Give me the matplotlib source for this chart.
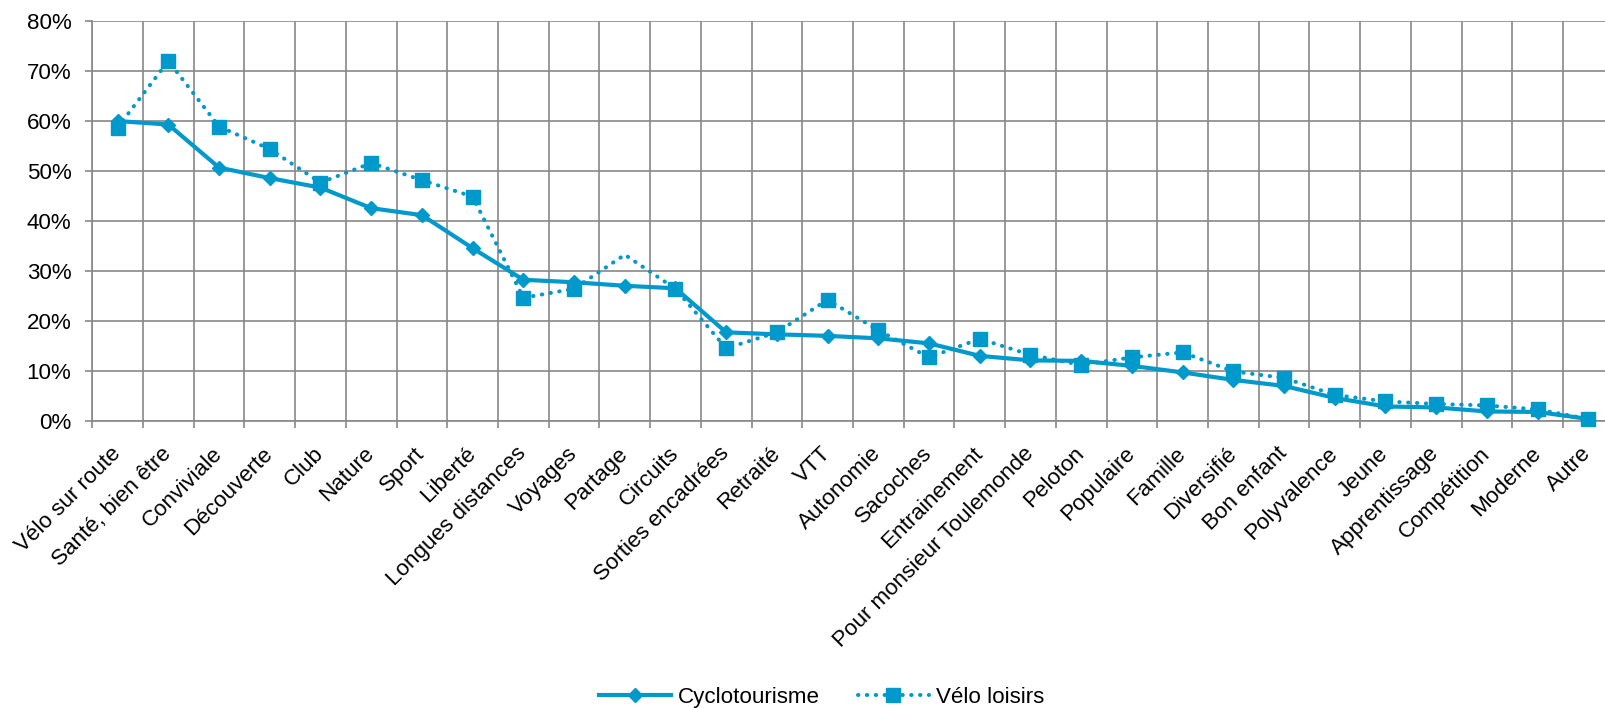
import numpy as np
import matplotlib
matplotlib.use('Agg')
import matplotlib.pyplot as plt
import matplotlib.transforms as mtransforms
from matplotlib.ticker import PercentFormatter, FixedLocator

plt.rcParams['font.family'] = ['Liberation Sans', 'DejaVu Sans']

categories = ["Vélo sur route", "Santé, bien être", "Conviviale", "Découverte", "Club",
              "Nature", "Sport", "Liberté", "Longues distances", "Voyages", "Partage",
              "Circuits", "Sorties encadrées", "Retraité", "VTT", "Autonomie", "Sacoches",
              "Entrainement", "Pour monsieur Toulemonde", "Peloton", "Populaire", "Famille",
              "Diversifié", "Bon enfant", "Polyvalence", "Jeune", "Apprentissage",
              "Compétition", "Moderne", "Autre"]
cyclotourisme = [60.0, 59.3, 50.7, 48.6, 46.7, 42.6, 41.2, 34.6, 28.3, 27.8, 27.1, 26.6,
                 17.8, 17.4, 17.1, 16.6, 15.6, 13.1, 12.2, 12.1, 11.1, 9.8, 8.3, 7.1,
                 4.7, 3.0, 2.8, 2.0, 1.9, 0.5]
velo_loisirs = [58.7, 72.0, 58.9, 54.4, 47.7, 51.6, 48.2, 44.9, 24.7, 26.5, 33.3, 26.5,
                14.6, 17.8, 24.3, 18.2, 12.8, 16.5, 13.3, 11.3, 12.8, 13.8, 10.0, 8.7,
                5.3, 4.0, 3.5, 3.2, 2.4, 0.5]
series_names = ["Cyclotourisme", "Vélo loisirs"]

blue = '#0099cc'
grey = '#888888'
fs = 16.1

fig = plt.figure(figsize=(16.05, 7.08), dpi=100)
ax = fig.add_axes([0.0575, 0.4047, 0.9479, 0.5658])

x = np.arange(len(categories))
ax.plot(x, cyclotourisme, color=blue, lw=3.0, marker='D', ms=7,
        label=series_names[0], zorder=3, clip_on=False)
# no marker drawn on "Partage" in the original
marks = [i for i in range(len(categories)) if i != 10]
ax.plot(x, velo_loisirs, color=blue, lw=2.9, ls=(0, (0.1, 2.1)),
        dash_capstyle='round', marker='s', ms=10.5, markevery=marks,
        label=series_names[1], zorder=4, clip_on=False)

ax.set_xlim(-0.5, len(categories) - 0.5)
ax.set_ylim(0, 80)
ax.yaxis.set_major_locator(FixedLocator(np.arange(0, 81, 10)))
ax.yaxis.set_major_formatter(PercentFormatter(decimals=0))
ax.set_xticks(x)
ax.set_xticklabels(categories, rotation=45, ha='right', va='center',
                   rotation_mode='anchor', fontsize=fs)
shift = mtransforms.ScaledTranslation(0.03, 0, fig.dpi_scale_trans)
for lab in ax.get_xticklabels():
    lab.set_transform(lab.get_transform() + shift)
ax.set_xticks(np.arange(-0.5, len(categories), 1), minor=True)

ax.tick_params(axis='x', which='major', length=0, pad=21)
ax.tick_params(axis='x', which='minor', length=5, width=1.2, color=grey)
ax.tick_params(axis='y', length=5, width=1.2, color=grey, pad=10, labelsize=fs)

ax.grid(True, axis='y', which='major', color=grey, lw=1.2)
ax.grid(True, axis='x', which='minor', color=grey, lw=1.2)
ax.set_axisbelow(True)
for s in ['top', 'right']:
    ax.spines[s].set_visible(False)
for s in ['left', 'bottom']:
    ax.spines[s].set_color(grey)
    ax.spines[s].set_linewidth(1.2)

fig.legend(loc='center', bbox_to_anchor=(0.512, 0.0155), ncol=2, frameon=False,
           fontsize=fs, handlelength=3.2, handletextpad=0.3, columnspacing=1.7,
           borderpad=0)

plt.savefig('out.png', dpi=100)
